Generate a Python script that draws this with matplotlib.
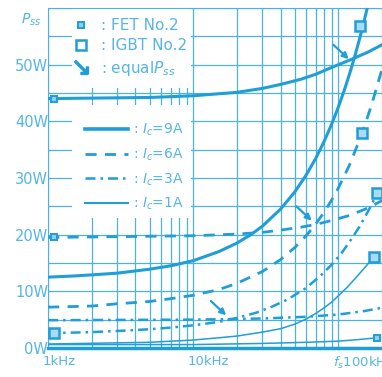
import matplotlib
matplotlib.use("Agg")
import matplotlib.pyplot as plt
from matplotlib.lines import Line2D
from matplotlib.patches import Rectangle
from matplotlib.ticker import LogLocator, MultipleLocator, NullFormatter

plt.rcParams['font.family'] = ['DejaVu Sans']
plt.rcParams['mathtext.fontset'] = 'dejavusans'

# values (frequency in kHz, loss in W)
fet9_f = [1, 5, 10, 20, 30, 40, 55, 70, 90, 120, 160, 200]
fet9_p = [44.0, 44.2, 44.5, 45.1, 45.8, 46.5, 47.4, 48.3, 49.5, 50.8, 52.2, 53.5]
igbt9_f = [1, 1.5, 2, 3, 5, 7, 10, 15, 20, 25, 30, 40, 50, 60, 70, 80, 90, 100,
           110, 120, 130, 140, 150, 160]
igbt9_p = [12.5, 12.7, 12.9, 13.2, 13.9, 14.5, 15.4, 17.0, 18.5, 20.0, 21.5, 24.5,
           27.5, 30.5, 33.5, 36.5, 39.5, 42.5, 45.5, 48.5, 51.5, 54.5, 57.5, 60.5]

fet6_f = [1, 10, 20, 30, 40, 55, 70, 90, 120, 160, 200]
fet6_p = [19.5, 19.8, 20.1, 20.4, 20.8, 21.3, 21.8, 22.5, 23.4, 24.7, 26.0]
igbt6_f = [1, 2, 3, 5, 7, 10, 15, 20, 30, 40, 50, 60, 70, 80, 90, 100, 120, 146,
           170, 200]
igbt6_p = [7.2, 7.4, 7.8, 8.2, 8.7, 9.3, 10.3, 11.4, 13.5, 15.6, 17.7, 19.8, 21.9,
           24.0, 26.1, 28.2, 32.4, 37.9, 43.0, 49.2]

fet3_f = [1, 10, 30, 60, 100, 150, 200]
fet3_p = [4.9, 5.0, 5.2, 5.5, 5.9, 6.5, 7.1]
igbt3_f = [1, 2, 3, 5, 7, 10, 15, 20, 27, 35, 45, 60, 75, 90, 105, 120, 140, 165, 186]
igbt3_p = [2.6, 2.8, 3.0, 3.3, 3.6, 4.0, 4.6, 5.3, 6.2, 7.3, 8.6, 10.6, 12.7, 14.7,
           16.7, 18.8, 21.4, 24.7, 27.4]

fet1_f = [1, 10, 30, 60, 100, 140, 186]
fet1_p = [0.6, 0.6, 0.8, 1.0, 1.2, 1.5, 1.8]
igbt1_f = [1, 3, 5, 10, 15, 20, 30, 40, 50, 60, 70, 80, 90, 100, 115, 130, 150, 175]
igbt1_p = [0.7, 0.9, 1.0, 1.4, 1.8, 2.1, 2.8, 3.4, 4.2, 5.1, 6.1, 7.1, 8.1, 9.2,
           10.7, 12.2, 14.0, 16.0]

# measured points
fet_mark_f = [1.1, 1.1, 186]
fet_mark_p = [44.0, 19.5, 1.8]
igbt_mark_f = [1.1, 141, 146, 186, 175]
igbt_mark_p = [2.6, 56.8, 37.9, 27.4, 16.0]

# points where FET and IGBT losses are equal
equal_f = [126, 70, 18]
equal_p = [50.3, 21.8, 5.1]

xtick_vals = [1, 10, 100]
xtick_text = ['1kHz', '10kHz', '$f_s$100kHz']
ytick_vals = [0, 10, 20, 30, 40, 50]
ytick_text = ['0W', '10W', '20W', '30W', '40W', '50W']

c = '#1f9ed8'
gc = '#4cb1e4'
tc = '#55b5e5'
dash = (0, (4, 3))
dashdot = (0, (4, 2, 1, 2))

fig = plt.figure(figsize=(3.82, 3.77), dpi=100)
ax = fig.add_axes([0.126, 0.077, 0.874, 0.902])
ax.set_xscale('log')
ax.set_xlim(1, 200)
ax.set_ylim(0, 60)
ax.set_axisbelow(True)

ax.xaxis.set_minor_locator(LogLocator(base=10, subs=range(2, 10)))
ax.xaxis.set_minor_formatter(NullFormatter())
ax.set_xticks(xtick_vals)
ax.set_xticklabels([])
ax.yaxis.set_minor_locator(MultipleLocator(5))
ax.set_yticks(ytick_vals)
ax.set_yticklabels(ytick_text, color=tc, fontsize=10.5)
ax.tick_params(which='both', length=0, pad=0)
ax.grid(which='both', color=gc, lw=0.9)
for s in ['left', 'top', 'bottom']:
    ax.spines[s].set_color(gc)
ax.spines['right'].set_visible(False)
ax.spines['bottom'].set_linewidth(2.5)
ax.spines['bottom'].set_color(c)

for v, t in zip(xtick_vals, xtick_text):
    ax.text(v * 0.92, -0.02, t, transform=ax.get_xaxis_transform(),
            ha='left', va='top', color=tc, fontsize=9.5)
ax.text(-0.08, 0.99, '$P_{ss}$', transform=ax.transAxes, ha='left', va='top',
        color=tc, fontsize=10)

# white areas behind the legends
ax.add_patch(Rectangle((0.072, 0.765), 0.355, 0.24, transform=ax.transAxes,
                       facecolor='white', edgecolor='none', zorder=1))
ax.add_patch(Rectangle((0.072, 0.382), 0.355, 0.333, transform=ax.transAxes,
                       facecolor='white', edgecolor='none', zorder=1))

ax.plot(fet9_f, fet9_p, color=c, lw=2.2, zorder=3)
ax.plot(igbt9_f, igbt9_p, color=c, lw=2.2, zorder=3)
ax.plot(fet6_f, fet6_p, color=c, lw=2.0, ls=dash, zorder=3)
ax.plot(igbt6_f, igbt6_p, color=c, lw=2.0, ls=dash, zorder=3)
ax.plot(fet3_f, fet3_p, color=c, lw=1.8, ls=dashdot, zorder=3)
ax.plot(igbt3_f, igbt3_p, color=c, lw=1.8, ls=dashdot, zorder=3)
ax.plot(fet1_f, fet1_p, color=c, lw=1.1, zorder=3)
ax.plot(igbt1_f, igbt1_p, color=c, lw=1.1, zorder=3)

ax.plot(fet_mark_f, fet_mark_p, ls='none', marker='s', ms=5, mfc='#8fd0f0',
        mec=c, mew=1.4, zorder=4, clip_on=False)
ax.plot(igbt_mark_f, igbt_mark_p, ls='none', marker='s', ms=6.5, mfc='#a9dcf4',
        mec=c, mew=1.8, zorder=4, clip_on=False)

for f, p in zip(equal_f, equal_p):
    ax.annotate('', xy=(f, p), xytext=(-14, 13), textcoords='offset points',
                arrowprops=dict(arrowstyle='-|>', color=c, lw=1.6,
                                mutation_scale=9, shrinkA=0, shrinkB=4),
                zorder=4)

h1 = [Line2D([], [], ls='none', marker='s', ms=5, mfc='#8fd0f0', mec=c, mew=1.4),
      Line2D([], [], ls='none', marker='s', ms=6.5, mfc='white', mec=c, mew=1.8),
      Line2D([], [], ls='none', marker=r'$\searrow$', ms=10, color=c)]
leg1 = ax.legend(h1, [': FET No.2', ': IGBT No.2', ': equal$P_{ss}$'],
                 loc='upper left', bbox_to_anchor=(0.072, 0.97), frameon=False,
                 fontsize=11, labelcolor=tc, handlelength=1.2, handletextpad=0.7,
                 labelspacing=0.35, borderpad=0, borderaxespad=0)
leg1.set_zorder(5)
ax.add_artist(leg1)

h2 = [Line2D([], [], color=c, lw=2.6),
      Line2D([], [], color=c, lw=2.0, ls=dash),
      Line2D([], [], color=c, lw=1.8, ls=dashdot),
      Line2D([], [], color=c, lw=1.5)]
leg2 = ax.legend(h2, [': $I_c$=9A', ': $I_c$=6A', ': $I_c$=3A', ': $I_c$=1A'],
                 loc='upper left', bbox_to_anchor=(0.111, 0.665), frameon=False,
                 fontsize=10, labelcolor=tc, handlelength=3.1, handletextpad=0.35,
                 labelspacing=0.6, borderpad=0, borderaxespad=0)
leg2.set_zorder(5)

fig.savefig('out.png', dpi=100)
